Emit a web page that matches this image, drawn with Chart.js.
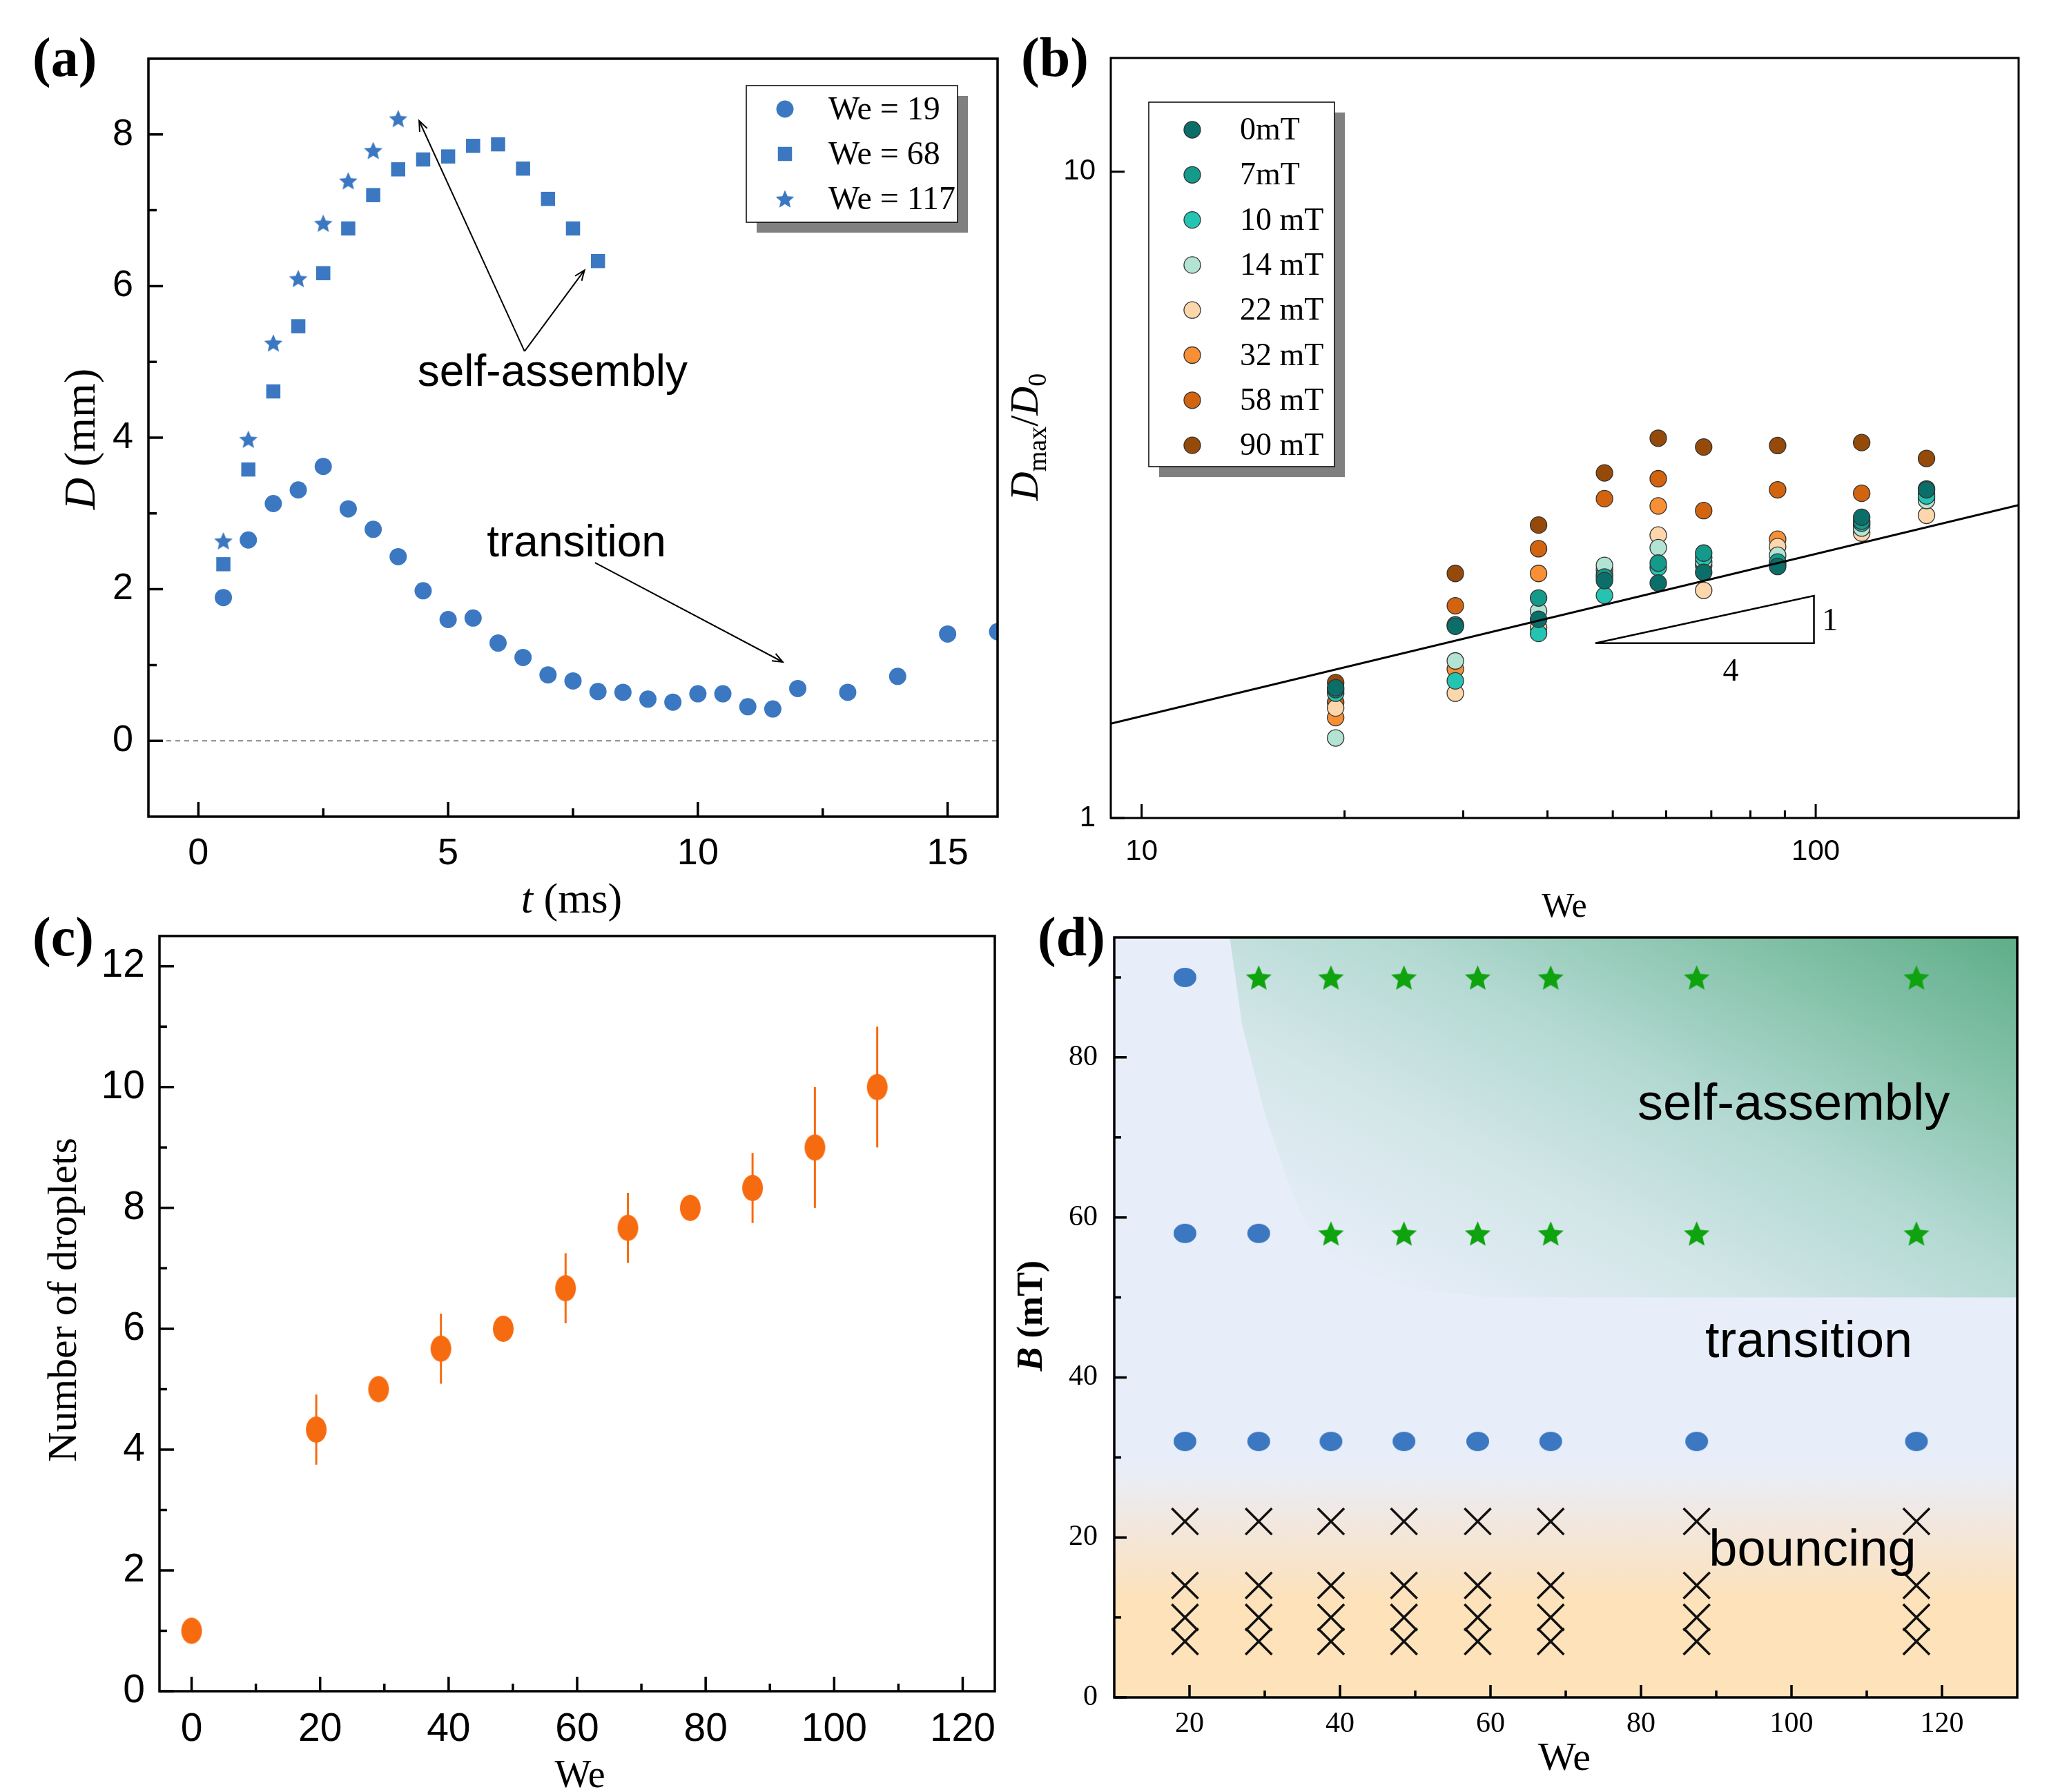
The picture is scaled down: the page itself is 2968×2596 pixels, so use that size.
<!DOCTYPE html>
<html>
<head>
<meta charset="utf-8">
<script src="https://cdn.jsdelivr.net/npm/chart.js@4.4.1/dist/chart.umd.min.js"></script>
<style>
html, body { margin: 0; padding: 0; background: #fff; }
body { width: 2968px; height: 2596px; position: relative; overflow: hidden; }
canvas { position: absolute; }
</style>
</head>
<body>
<canvas id="chartA" width="1460" height="1345" style="left:0px;top:0px"></canvas>
<canvas id="chartB" width="1508" height="1345" style="left:1460px;top:0px"></canvas>
<canvas id="chartC" width="1460" height="1296" style="left:0px;top:1300px"></canvas>
<canvas id="chartD" width="1508" height="1296" style="left:1460px;top:1300px"></canvas>
<script>
// ---------- (a) spreading diameter D vs time ----------
const tWe19 = [0.5, 1, 1.5, 2, 2.5, 3, 3.5, 4, 4.5, 5, 5.5, 6, 6.5, 7, 7.5, 8, 8.5, 9, 9.5, 10, 10.5, 11, 11.5, 12, 13, 14, 15, 16];
const dWe19 = [1.89, 2.65, 3.13, 3.31, 3.62, 3.06, 2.79, 2.43, 1.98, 1.60, 1.62, 1.29, 1.10, 0.87, 0.79, 0.65, 0.64, 0.55, 0.51, 0.62, 0.62, 0.45, 0.42, 0.69, 0.64, 0.85, 1.41, 1.44];
const tWe68 = [0.5, 1, 1.5, 2, 2.5, 3, 3.5, 4, 4.5, 5, 5.5, 6, 6.5, 7, 7.5, 8];
const dWe68 = [2.33, 3.58, 4.61, 5.47, 6.17, 6.76, 7.20, 7.54, 7.67, 7.71, 7.85, 7.87, 7.55, 7.15, 6.76, 6.33];
const tWe117 = [0.5, 1, 1.5, 2, 2.5, 3, 3.5, 4];
const dWe117 = [2.64, 3.98, 5.25, 6.10, 6.83, 7.39, 7.79, 8.21];
const aLegend = ['We = 19', 'We = 68', 'We = 117'];
const aTicksX = [0, 5, 10, 15];
const aMinorX = [2.5, 7.5, 12.5];
const aTicksY = [0, 2, 4, 6, 8];
const aMinorY = [1, 3, 5, 7];

// ---------- (b) Dmax/D0 vs We ----------
const bWe = [19.4, 29.2, 38.8, 48.6, 58.4, 68.2, 87.8, 117, 146];
const bLabels = ['0mT', '7mT', '10 mT', '14 mT', '22 mT', '32 mT', '58 mT', '90 mT'];
const b0 = [1.59, 1.98, 2.03, 2.33, 2.31, 2.40, 2.45, 2.92, 3.22];
const b7 = [1.58, 1.99, 2.19, 2.36, 2.48, 2.57, 2.49, 2.88, 3.23];
const b10 = [1.56, 1.63, 1.93, 2.21, 2.44, 2.53, 2.47, 2.86, 3.15];
const b14 = [1.33, 1.75, 2.09, 2.46, 2.62, 2.49, 2.55, 2.81, 3.10];
const b22 = [1.48, 1.56, 1.97, 2.38, 2.74, 2.25, 2.63, 2.76, 2.94];
const b32 = [1.43, 1.70, 2.39, 2.42, 3.04, 2.46, 2.70, 2.84, 3.13];
const b58 = [1.51, 2.13, 2.61, 3.12, 3.35, 2.99, 3.22, 3.18, 3.17];
const b90 = [1.62, 2.39, 2.84, 3.42, 3.87, 3.75, 3.77, 3.81, 3.60];
const bColors = ['#0c6e68', '#139a8b', '#25c3b1', '#b3e3d3', '#fdd6ab', '#f98f35', '#d3640f', '#964a09'];
const fitWe = [9, 200];
const fitD = [1.40, 3.05];
const triWe = [47.1, 99.4, 99.4, 47.1];
const triD = [1.864, 1.864, 2.208, 1.864];
const bTicksX = [10, 100];
const bMinorX = [20, 30, 40, 50, 60, 70, 80, 90, 200];
const bTicksY = [1, 10];

// ---------- (c) number of droplets vs We ----------
const cWe = [0, 19.4, 29.1, 38.8, 48.5, 58.2, 67.9, 77.6, 87.3, 97, 106.7];
const cN = [1, 4.33, 5, 5.67, 6, 6.67, 7.67, 8, 8.33, 9, 10];
const cErr = [0, 0.58, 0, 0.58, 0, 0.58, 0.58, 0, 0.58, 1, 1];
const cTicksX = [0, 20, 40, 60, 80, 100, 120];
const cMinorX = [10, 30, 50, 70, 90, 110];
const cTicksY = [0, 2, 4, 6, 8, 10, 12];
const cMinorY = [1, 3, 5, 7, 9, 11];

// ---------- (d) regime map B vs We ----------
const dWe = [19.4, 29.2, 38.8, 48.5, 58.3, 68, 87.4, 116.6];
const dB = [7, 10, 14, 22, 32, 58, 90];
// x = bouncing, o = transition, * = self-assembly (one string per B row)
const dRegime = ['xxxxxxxx', 'xxxxxxxx', 'xxxxxxxx', 'xxxxxxxx', 'oooooooo', 'oo******', 'o*******'];
const saWe = [25.2, 27, 30, 32.5, 35, 38, 43, 50, 60, 130, 130];
const saB = [96, 84, 73, 66, 60, 56, 53, 51, 50, 50, 96];
const dTicksX = [20, 40, 60, 80, 100, 120];
const dMinorX = [30, 50, 70, 90, 110];
const dTicksY = [0, 20, 40, 60, 80];
const dMinorY = [10, 30, 50, 70, 90];

const blue = '#3b78c1';
const orange = '#f76b10';
const green = '#0fa30f';
const SERIF = 'Liberation Serif';
const SANS = 'Liberation Sans';

Chart.defaults.font.family = SANS;
Chart.defaults.color = '#000';

function pts(xs, ys) {
    return xs.map(function(x, i) { return {x: x, y: ys[i]}; });
}

function starImg(r, color) {
    const c = document.createElement('canvas');
    const s = Math.ceil(2 * r + 4);
    c.width = s; c.height = s;
    const g = c.getContext('2d');
    g.fillStyle = color;
    g.beginPath();
    for (let i = 0; i < 10; i++) {
        const rr = i % 2 ? r * 0.46 : r;
        const ang = -Math.PI / 2 + i * Math.PI / 5;
        g.lineTo(s / 2 + rr * Math.cos(ang), s / 2 + 0.1 * r + rr * Math.sin(ang));
    }
    g.closePath();
    g.fill();
    return c;
}

function ellipseImg(rx, ry, color) {
    const c = document.createElement('canvas');
    c.width = Math.ceil(2 * rx + 2); c.height = Math.ceil(2 * ry + 2);
    const g = c.getContext('2d');
    g.fillStyle = color;
    g.beginPath();
    g.ellipse(c.width / 2, c.height / 2, rx, ry, 0, 0, Math.PI * 2);
    g.fill();
    return c;
}

function axis(o) {
    return {
        type: o.type || 'linear',
        position: o.pos,
        min: o.min,
        max: o.max,
        grid: {display: false, drawTicks: false},
        border: {display: false},
        ticks: {
            autoSkip: false,
            maxRotation: 0,
            padding: o.pad,
            color: '#000',
            font: o.font,
            callback: function(v) { return String(v); }
        },
        afterBuildTicks: function(s) { s.ticks = o.major.map(function(v) { return {value: v}; }); },
        afterFit: function(s) {
            if (o.pos === 'left') s.width = o.size; else s.height = o.size;
            s.paddingTop = 0; s.paddingBottom = 0; s.paddingLeft = 0; s.paddingRight = 0;
        }
    };
}

function frameTicks(chart, f) {
    const ctx = chart.ctx, a = chart.chartArea;
    const xs = chart.scales.x, ys = chart.scales.y;
    ctx.save();
    ctx.strokeStyle = '#000';
    ctx.lineWidth = f.lw;
    ctx.beginPath();
    f.xMajor.forEach(function(v) { const p = xs.getPixelForValue(v); ctx.moveTo(p, a.bottom); ctx.lineTo(p, a.bottom - f.major); });
    f.xMinor.forEach(function(v) { const p = xs.getPixelForValue(v); ctx.moveTo(p, a.bottom); ctx.lineTo(p, a.bottom - f.minor); });
    f.yMajor.forEach(function(v) { const p = ys.getPixelForValue(v); ctx.moveTo(a.left, p); ctx.lineTo(a.left + f.major, p); });
    f.yMinor.forEach(function(v) { const p = ys.getPixelForValue(v); ctx.moveTo(a.left, p); ctx.lineTo(a.left + f.minor, p); });
    ctx.stroke();
    ctx.strokeRect(a.left, a.top, a.right - a.left, a.bottom - a.top);
    ctx.restore();
}

// mixed-style text, centred on x, baseline at y
function richText(ctx, parts, x, y, angle) {
    ctx.save();
    ctx.translate(x, y);
    if (angle) ctx.rotate(angle);
    ctx.fillStyle = '#000';
    ctx.textBaseline = 'alphabetic';
    ctx.textAlign = 'left';
    let w = 0;
    parts.forEach(function(p) { ctx.font = p.f; w += ctx.measureText(p.t).width; });
    let cx = -w / 2;
    parts.forEach(function(p) { ctx.font = p.f; ctx.fillText(p.t, cx, p.dy || 0); cx += ctx.measureText(p.t).width; });
    ctx.restore();
}

function panelLabel(ctx, text, x, y) {
    ctx.save();
    ctx.font = 'bold 80px ' + SERIF;
    ctx.fillStyle = '#000';
    ctx.textBaseline = 'alphabetic';
    ctx.fillText(text, x, y);
    ctx.restore();
}

function arrow(ctx, x0, y0, x1, y1, head) {
    ctx.beginPath(); ctx.moveTo(x0, y0); ctx.lineTo(x1, y1); ctx.stroke();
    const ang = Math.atan2(y1 - y0, x1 - x0);
    ctx.beginPath();
    ctx.moveTo(x1 - head * Math.cos(ang - 0.38), y1 - head * Math.sin(ang - 0.38));
    ctx.lineTo(x1, y1);
    ctx.lineTo(x1 - head * Math.cos(ang + 0.38), y1 - head * Math.sin(ang + 0.38));
    ctx.stroke();
}

function textAt(chart, text, font, xv, yv, align) {
    const ctx = chart.ctx;
    ctx.save();
    ctx.font = font;
    ctx.fillStyle = '#000';
    ctx.textAlign = align || 'center';
    ctx.textBaseline = 'alphabetic';
    ctx.fillText(text, chart.scales.x.getPixelForValue(xv), chart.scales.y.getPixelForValue(yv));
    ctx.restore();
}

function legendBox(ctx, x0, y0, x1, y1) {
    ctx.save();
    ctx.fillStyle = '#808080';
    ctx.fillRect(x0 + 15, y0 + 15, x1 - x0, y1 - y0);
    ctx.fillStyle = '#fff';
    ctx.fillRect(x0, y0, x1 - x0, y1 - y0);
    ctx.strokeStyle = '#000';
    ctx.lineWidth = 1.5;
    ctx.strokeRect(x0, y0, x1 - x0, y1 - y0);
    ctx.restore();
}

const baseOpts = {
    responsive: false,
    animation: false,
    devicePixelRatio: 1,
    plugins: {legend: {display: false}, tooltip: {enabled: false}}
};

// ================= Chart (a) =================
const starA = starImg(14, blue);
new Chart(document.getElementById('chartA'), {
    type: 'scatter',
    data: {
        datasets: [
            {data: pts([-1, 16], [0, 0]), showLine: true, borderColor: '#555', borderWidth: 1.5, borderDash: [7, 6], pointRadius: 0, clip: 0},
            {data: pts(tWe19, dWe19), pointStyle: 'circle', pointRadius: 12.5, pointBorderWidth: 0, backgroundColor: blue, clip: 0},
            {data: pts(tWe68, dWe68), pointStyle: 'rect', pointRadius: 14.5, pointBorderWidth: 0, backgroundColor: blue, clip: 0},
            {data: pts(tWe117, dWe117), pointStyle: starA, pointRadius: 14, clip: 0}
        ]
    },
    options: Object.assign({}, baseOpts, {
        layout: {padding: {left: 0, top: 85, right: 14, bottom: 0}},
        scales: {
            x: axis({pos: 'bottom', min: -1, max: 16, major: aTicksX, pad: 22, size: 162, font: {family: SANS, size: 54}}),
            y: axis({pos: 'left', min: -1, max: 9, major: aTicksY, pad: 22, size: 215, font: {family: SANS, size: 54}})
        }
    }),
    plugins: [{
        id: 'decorA',
        afterDraw: function(chart) {
            const ctx = chart.ctx, xs = chart.scales.x, ys = chart.scales.y;
            frameTicks(chart, {lw: 3.5, major: 21, minor: 12, xMajor: aTicksX, xMinor: aMinorX, yMajor: aTicksY, yMinor: aMinorY});
            textAt(chart, 'self-assembly', '64px ' + SANS, 7.09, 4.68);
            textAt(chart, 'transition', '64px ' + SANS, 7.57, 2.43);
            ctx.save();
            ctx.strokeStyle = '#000';
            ctx.lineWidth = 2;
            const X = function(v) { return xs.getPixelForValue(v); }, Y = function(v) { return ys.getPixelForValue(v); };
            arrow(ctx, X(6.53), Y(5.14), X(4.42), Y(8.18), 16);
            arrow(ctx, X(6.53), Y(5.14), X(7.73), Y(6.21), 16);
            arrow(ctx, X(7.94), Y(2.35), X(11.70), Y(1.04), 16);
            ctx.restore();
            // legend
            legendBox(ctx, 1081, 124, 1387, 322);
            const rows = [158, 223, 288];
            ctx.save();
            ctx.fillStyle = blue;
            ctx.beginPath(); ctx.arc(1137, rows[0], 12.5, 0, Math.PI * 2); ctx.fill();
            ctx.fillRect(1137 - 10.25, rows[1] - 10.25, 20.5, 20.5);
            ctx.drawImage(starA, 1137 - starA.width / 2, rows[2] - starA.height / 2);
            ctx.fillStyle = '#000';
            ctx.font = '48px ' + SERIF;
            ctx.textBaseline = 'middle';
            aLegend.forEach(function(t, i) { ctx.fillText(t, 1200, rows[i] + 2); });
            ctx.restore();
            richText(ctx, [{t: 'D', f: 'italic 64px ' + SERIF}, {t: ' (mm)', f: '64px ' + SERIF}], 137, 636, -Math.PI / 2);
            richText(ctx, [{t: 't', f: 'italic 62px ' + SERIF}, {t: ' (ms)', f: '62px ' + SERIF}], 828, 1322, 0);
            panelLabel(ctx, '(a)', 47, 110);
        }
    }]
});

// ================= Chart (b) =================
const bSeries = [b0, b7, b10, b14, b22, b32, b58, b90];
new Chart(document.getElementById('chartB'), {
    type: 'scatter',
    data: {
        datasets: [
            {data: pts(fitWe, fitD), showLine: true, borderColor: '#000', borderWidth: 3, pointRadius: 0, clip: 0},
            {data: pts(triWe, triD), showLine: true, borderColor: '#000', borderWidth: 2.5, pointRadius: 0}
        ].concat(bSeries.map(function(s, i) {
            return {data: pts(bWe, s), pointStyle: 'circle', pointRadius: 12, backgroundColor: bColors[i], borderColor: '#333', pointBorderWidth: 1.3};
        }))
    },
    options: Object.assign({}, baseOpts, {
        layout: {padding: {left: 0, top: 84, right: 44, bottom: 0}},
        scales: {
            x: axis({type: 'logarithmic', pos: 'bottom', min: 9, max: 200, major: bTicksX, pad: 24, size: 160, font: {family: SANS, size: 42}}),
            y: axis({type: 'logarithmic', pos: 'left', min: 1, max: 15, major: bTicksY, pad: 22, size: 149, font: {family: SANS, size: 42}})
        }
    }),
    plugins: [{
        id: 'decorB',
        afterDraw: function(chart) {
            const ctx = chart.ctx;
            frameTicks(chart, {lw: 3, major: 20, minor: 11, xMajor: bTicksX, xMinor: bMinorX, yMajor: bTicksY, yMinor: []});
            textAt(chart, '1', '46px ' + SERIF, 105, 1.95);
            textAt(chart, '4', '46px ' + SERIF, 74.8, 1.63);
            legendBox(ctx, 204, 148, 473, 676);
            ctx.save();
            ctx.font = '46px ' + SERIF;
            ctx.textBaseline = 'middle';
            bLabels.forEach(function(t, i) {
                const y = 188 + i * 65.3;
                ctx.fillStyle = bColors[i];
                ctx.strokeStyle = '#333';
                ctx.lineWidth = 1.3;
                ctx.beginPath(); ctx.arc(267, y, 12, 0, Math.PI * 2); ctx.fill(); ctx.stroke();
                ctx.fillStyle = '#000';
                ctx.fillText(t, 336, y + 2);
            });
            ctx.restore();
            richText(ctx, [
                {t: 'D', f: 'italic 58px ' + SERIF}, {t: 'max', f: '38px ' + SERIF, dy: 12},
                {t: '/', f: '58px ' + SERIF}, {t: 'D', f: 'italic 58px ' + SERIF}, {t: '0', f: '38px ' + SERIF, dy: 12}
            ], 43, 633, -Math.PI / 2);
            richText(ctx, [{t: 'We', f: '50px ' + SERIF}], 806, 1328, 0);
            panelLabel(ctx, '(b)', 19, 110);
        }
    }]
});

// ================= Chart (c) =================
const dotC = ellipseImg(15, 19, orange);
new Chart(document.getElementById('chartC'), {
    type: 'scatter',
    data: {
        datasets: [
            {data: pts(cWe, cN), pointStyle: dotC, pointRadius: 14}
        ]
    },
    options: Object.assign({}, baseOpts, {
        layout: {padding: {left: 0, top: 56, right: 19, bottom: 0}},
        scales: {
            x: axis({pos: 'bottom', min: -5, max: 125, major: cTicksX, pad: 22, size: 146, font: {family: SANS, size: 57}}),
            y: axis({pos: 'left', min: 0, max: 12.5, major: cTicksY, pad: 21, size: 231, font: {family: SANS, size: 57}})
        }
    }),
    plugins: [{
        id: 'decorC',
        beforeDatasetsDraw: function(chart) {
            const ctx = chart.ctx, xs = chart.scales.x, ys = chart.scales.y;
            ctx.save();
            ctx.strokeStyle = orange;
            ctx.lineWidth = 3;
            cWe.forEach(function(w, i) {
                if (!cErr[i]) return;
                const p = xs.getPixelForValue(w);
                ctx.beginPath();
                ctx.moveTo(p, ys.getPixelForValue(cN[i] - cErr[i]));
                ctx.lineTo(p, ys.getPixelForValue(cN[i] + cErr[i]));
                ctx.stroke();
            });
            ctx.restore();
        },
        afterDraw: function(chart) {
            const ctx = chart.ctx;
            frameTicks(chart, {lw: 3.5, major: 21, minor: 11, xMajor: cTicksX, xMinor: cMinorX, yMajor: cTicksY, yMinor: cMinorY});
            richText(ctx, [{t: 'Number of droplets', f: '60px ' + SERIF}], 110, 583, -Math.PI / 2);
            richText(ctx, [{t: 'We', f: '56px ' + SERIF}], 840, 1289, 0);
            panelLabel(ctx, '(c)', 47, 84);
        }
    }]
});

// ================= Chart (d) =================
const dotD = ellipseImg(16.5, 14, blue);
const starD = starImg(19.5, green);
function regimePts(code) {
    const out = [];
    dB.forEach(function(b, j) {
        dWe.forEach(function(w, i) { if (dRegime[j][i] === code) out.push({x: w, y: b}); });
    });
    return out;
}
new Chart(document.getElementById('chartD'), {
    type: 'scatter',
    data: {
        datasets: [
            {data: regimePts('x'), pointStyle: 'crossRot', pointRadius: 27, pointBorderWidth: 3.5, borderColor: '#111', backgroundColor: '#111'},
            {data: regimePts('o'), pointStyle: dotD, pointRadius: 16},
            {data: regimePts('*'), pointStyle: starD, pointRadius: 19}
        ]
    },
    options: Object.assign({}, baseOpts, {
        layout: {padding: {left: 0, top: 58, right: 46, bottom: 0}},
        scales: {
            x: axis({pos: 'bottom', min: 10, max: 130, major: dTicksX, pad: 14, size: 137, font: {family: SERIF, size: 42}}),
            y: axis({pos: 'left', min: 0, max: 95, major: dTicksY, pad: 24, size: 154, font: {family: SERIF, size: 42}})
        }
    }),
    plugins: [{
        id: 'decorD',
        beforeDatasetsDraw: function(chart) {
            const ctx = chart.ctx, a = chart.chartArea, xs = chart.scales.x, ys = chart.scales.y;
            const X = function(v) { return xs.getPixelForValue(v); }, Y = function(v) { return ys.getPixelForValue(v); };
            ctx.save();
            ctx.beginPath(); ctx.rect(a.left, a.top, a.right - a.left, a.bottom - a.top); ctx.clip();
            ctx.fillStyle = '#e8eef9';
            ctx.fillRect(a.left, a.top, a.right - a.left, a.bottom - a.top);
            // bouncing band
            const y0 = Y(0), y29 = Y(29);
            const g = ctx.createLinearGradient(0, y0, 0, y29);
            g.addColorStop(0, '#fde2ba');
            g.addColorStop(12 / 29, '#fde2ba');
            g.addColorStop(20 / 29, '#f4e6d8');
            g.addColorStop(1, '#e8eef9');
            ctx.fillStyle = g;
            ctx.fillRect(a.left, y29, a.right - a.left, y0 - y29);
            // self-assembly region
            ctx.beginPath();
            saWe.forEach(function(w, i) { ctx.lineTo(X(w), Y(saB[i])); });
            ctx.closePath();
            const sg = ctx.createLinearGradient(X(73.6), Y(37.7), X(112.2), Y(106));
            sg.addColorStop(0, '#e6edf8');
            sg.addColorStop(0.25, '#d3e6e8');
            sg.addColorStop(0.5, '#b3d9d2');
            sg.addColorStop(0.75, '#86c3ab');
            sg.addColorStop(1, '#5aab85');
            ctx.fillStyle = sg;
            ctx.fill();
            ctx.restore();
        },
        afterDraw: function(chart) {
            const ctx = chart.ctx;
            frameTicks(chart, {lw: 3.5, major: 18, minor: 10, xMajor: dTicksX, xMinor: dMinorX, yMajor: dTicksY, yMinor: dMinorY});
            textAt(chart, 'self-assembly', '74px ' + SANS, 100.3, 72.2);
            textAt(chart, 'transition', '74px ' + SANS, 102.3, 42.5);
            textAt(chart, 'bouncing', '74px ' + SANS, 102.8, 16.5);
            richText(ctx, [{t: 'B', f: 'italic bold 52px ' + SERIF}, {t: ' (mT)', f: 'bold 52px ' + SERIF}], 49, 606, -Math.PI / 2);
            richText(ctx, [{t: 'We', f: '58px ' + SERIF}], 806, 1264, 0);
            panelLabel(ctx, '(d)', 43, 84);
        }
    }]
});
</script>
</body>
</html>
